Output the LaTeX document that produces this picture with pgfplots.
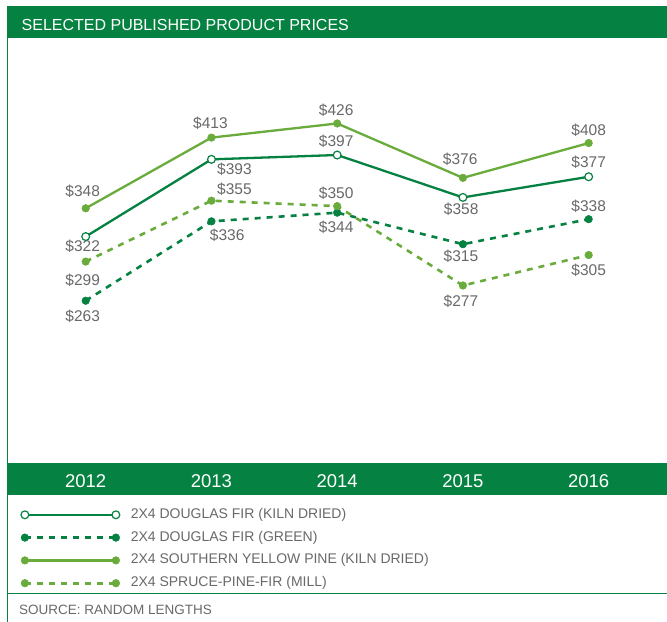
\documentclass[border=0pt]{standalone}
\usepackage{fontspec}
\setmainfont{Liberation Sans}
\usepackage{pgfplots}
\pgfplotsset{compat=1.18}
\definecolor{dkgreen}{RGB}{5,130,65}
\definecolor{ltgreen}{RGB}{106,172,60}
\definecolor{txtgray}{RGB}{105,105,108}
\tikzset{lbl/.style={text=txtgray, font=\fontsize{15.5bp}{18bp}\selectfont, inner sep=0pt, anchor=center}}
\begin{document}
\begin{tikzpicture}
\useasboundingbox (0,0) rectangle (667bp,622bp);
\fill[white] (0,0) rectangle (667bp,622bp);
% title bar
\fill[dkgreen] (7bp,584.3bp) rectangle (667bp,616bp);
\node[anchor=base west, inner sep=0pt, text=white, font=\fontsize{16bp}{18bp}\selectfont] at (21.5bp,591bp) {SELECTED PUBLISHED PRODUCT PRICES};
% year bar
\fill[dkgreen] (7bp,127bp) rectangle (667bp,159bp);
% left border and separator
\draw[dkgreen, line width=1.5bp] (7.3bp,0bp) -- (7.3bp,616bp);
\draw[dkgreen, line width=1.2bp] (7bp,28.7bp) -- (667bp,28.7bp);
\node[anchor=base west, inner sep=0pt, text=txtgray, font=\fontsize{13.5bp}{16bp}\selectfont] at (19bp,7.2bp) {SOURCE: RANDOM LENGTHS};
\begin{axis}[
  at={(7bp,159bp)}, anchor=south west,
  scale only axis, width=660bp, height=425bp,
  xmin=-0.626, xmax=4.623, ymin=113.8, ymax=504.6,
  axis line style={draw=none},
  major tick length=0pt,
  ytick=\empty,
  xtick={0,1,2,3,4},
  xticklabels={\mbox{2012},\mbox{2013},\mbox{2014},\mbox{2015},\mbox{2016}},
  xticklabel style={anchor=base, yshift=-24.3bp, text=white, font=\fontsize{18.5bp}{20bp}\selectfont},
  clip=false,
  legend cell align=left,
  legend style={draw=none, fill=none, inner sep=0pt, outer sep=0pt,
    at={(axis description cs:0.0212,-0.1066)}, anchor=north west,
    font=\fontsize{14bp}{16bp}\selectfont, text=txtgray,
    row sep=9.8bp, column sep=11bp,
    nodes={inner sep=0pt, text height=10bp, text depth=3bp}},
  legend image code/.code={\draw[#1] plot coordinates {(0bp,0bp) (91bp,0bp)};},
]
\addplot[dkgreen, line width=2.3bp, mark=*, mark size=3.9bp, mark options={solid, fill=white, draw=dkgreen, line width=1.2bp}]
  coordinates {(0,322) (1,393) (2,397) (3,358) (4,377)};
\addlegendentry{2X4 DOUGLAS FIR (KILN DRIED)}
\addplot[dkgreen, line width=2.6bp, dash pattern=on 6bp off 6bp, mark=*, mark size=3.8bp, mark options={solid, fill=dkgreen, draw=dkgreen, line width=0.5bp}]
  coordinates {(0,263) (1,336) (2,344) (3,315) (4,338)};
\addlegendentry{2X4 DOUGLAS FIR (GREEN)}
\addplot[ltgreen, line width=2.3bp, mark=*, mark size=3.8bp, mark options={solid, fill=ltgreen, draw=ltgreen, line width=0.5bp}]
  coordinates {(0,348) (1,413) (2,426) (3,376) (4,408)};
\addlegendentry{2X4 SOUTHERN YELLOW PINE (KILN DRIED)}
\addplot[ltgreen, line width=2.6bp, dash pattern=on 6bp off 6bp, mark=*, mark size=3.8bp, mark options={solid, fill=ltgreen, draw=ltgreen, line width=0.5bp}]
  coordinates {(0,299) (1,355) (2,350) (3,277) (4,305)};
\addlegendentry{2X4 SPRUCE-PINE-FIR (MILL)}
% data labels
\node[lbl, xshift=-3bp, yshift=17bp] at (axis cs:0,348) {\$348};
\node[lbl, xshift=-3bp, yshift=-10bp] at (axis cs:0,322) {\$322};
\node[lbl, xshift=-3bp, yshift=-18.7bp] at (axis cs:0,299) {\$299};
\node[lbl, xshift=-3bp, yshift=-16bp] at (axis cs:0,263) {\$263};
\node[lbl, xshift=-1bp, yshift=14.7bp] at (axis cs:1,413) {\$413};
\node[lbl, xshift=23bp, yshift=-10.4bp] at (axis cs:1,393) {\$393};
\node[lbl, xshift=23bp, yshift=11.4bp] at (axis cs:1,355) {\$355};
\node[lbl, xshift=15.7bp, yshift=-14bp] at (axis cs:1,336) {\$336};
\node[lbl, xshift=-1bp, yshift=13.4bp] at (axis cs:2,426) {\$426};
\node[lbl, xshift=-1bp, yshift=13.3bp] at (axis cs:2,397) {\$397};
\node[lbl, xshift=-1bp, yshift=13bp] at (axis cs:2,350) {\$350};
\node[lbl, xshift=-1bp, yshift=-15bp] at (axis cs:2,344) {\$344};
\node[lbl, xshift=-2.7bp, yshift=18.7bp] at (axis cs:3,376) {\$376};
\node[lbl, xshift=-1.7bp, yshift=-12bp] at (axis cs:3,358) {\$358};
\node[lbl, xshift=-2bp, yshift=-11.7bp] at (axis cs:3,315) {\$315};
\node[lbl, xshift=-2bp, yshift=-16bp] at (axis cs:3,277) {\$277};
\node[lbl, xshift=0bp, yshift=13bp] at (axis cs:4,408) {\$408};
\node[lbl, xshift=0bp, yshift=14.7bp] at (axis cs:4,377) {\$377};
\node[lbl, xshift=0bp, yshift=13bp] at (axis cs:4,338) {\$338};
\node[lbl, xshift=0bp, yshift=-15.7bp] at (axis cs:4,305) {\$305};
\end{axis}
\end{tikzpicture}
\end{document}
